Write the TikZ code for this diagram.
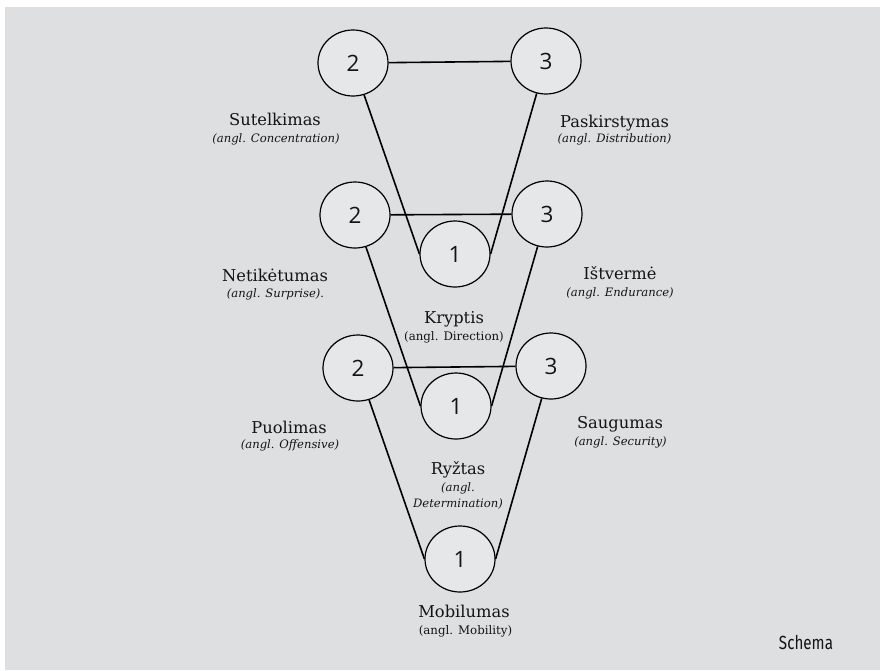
\documentclass[tikz,border=0pt]{standalone}
\usepackage{fontspec}
\setmainfont{DejaVu Serif}
\newfontfamily\numfont{Open Sans}
\newfontfamily\schemafont[FakeStretch=0.8]{Fira Sans}
\usetikzlibrary{shapes.geometric}
\definecolor{bggray}{HTML}{DEDFE1}
\definecolor{circfill}{HTML}{E6E7E9}
\definecolor{txt}{HTML}{141414}
\tikzset{
  circ/.style={ellipse, draw=black, line width=1.2pt, fill=circfill, minimum width=70pt, minimum height=66pt, inner sep=0pt, font=\numfont\fontsize{22.5}{26}\selectfont, text=txt},
  conn/.style={draw=black, line width=1.6pt},
  mainlbl/.style={anchor=base, inner sep=0pt, text=txt, font=\fontsize{16.3}{19}\selectfont},
  sublbl/.style={anchor=base, inner sep=0pt, text=txt, font=\itshape\fontsize{11.6}{14}\selectfont},
  subup/.style={anchor=base, inner sep=0pt, text=txt, font=\fontsize{11.8}{14}\selectfont},
  schemalbl/.style={anchor=base, inner sep=0pt, text=txt, font=\schemafont\fontsize{19}{22}\selectfont}
}
\begin{document}
\begin{tikzpicture}[x=1pt,y=-1pt]
\useasboundingbox (0,0) rectangle (880,670);
\fill[bggray] (5,7) rectangle (880,670);
% circles
\node[circ] (a2) at (353,63) {2};
\node[circ] (a3) at (546,61) {3};
\node[circ] (b2) at (355,215) {2};
\node[circ] (b3) at (547,214) {3};
\node[circ] (b1) at (455,254) {1};
\node[circ] (c2) at (358,368) {2};
\node[circ] (c3) at (551,366) {3};
\node[circ] (c1) at (456,406) {1};
\node[circ] (d1) at (460,559) {1};
% connectors
\draw[conn] (a2) -- (a3);
\draw[conn] (a2) -- (b1.west);
\draw[conn] (a3) -- (b1.east);
\draw[conn] (b2) -- (b3);
\draw[conn] (b2) -- (c1.west);
\draw[conn] (b3) -- (c1.east);
\draw[conn] (c2) -- (c3);
\draw[conn] (c2) -- (d1.west);
\draw[conn] (c3) -- (d1.east);
% labels
\node[mainlbl] (tSut) at (275,125) {Sutelkimas};
\node[sublbl] (sSut) at (276,142) {(angl. Concentration)};
\node[mainlbl] (tPas) at (614.5,127) {Paskirstymas};
\node[sublbl] (sPas) at (614.5,142) {(angl. Distribution)};
\node[mainlbl] (tNet) at (275,281) {Netikėtumas};
\node[sublbl] (sNet) at (275.5,297) {(angl. Surprise).};
\node[mainlbl] (tKry) at (454,323) {Kryptis};
\node[subup] (sKry) at (454,340) {(angl. Direction)};
\node[mainlbl] (tIst) at (620,279) {Ištvermė};
\node[sublbl] (sIst) at (620,296) {(angl. Endurance)};
\node[mainlbl] (tPuo) at (289,433) {Puolimas};
\node[sublbl] (sPuo) at (290,448) {(angl. Offensive)};
\node[mainlbl] (tSau) at (620,428) {Saugumas};
\node[sublbl] (sSau) at (620.5,445) {(angl. Security)};
\node[mainlbl] (tRyz) at (458,474) {Ryžtas};
\node[sublbl] (sRyz1) at (458,491) {(angl.};
\node[sublbl] (sRyz2) at (458,507) {Determination)};
\node[mainlbl] (tMob) at (464,617) {Mobilumas};
\node[subup] (sMob) at (465.5,634) {(angl. Mobility)};
\node[schemalbl] (schema) at (806,649) {Schema};
\end{tikzpicture}
\end{document}
